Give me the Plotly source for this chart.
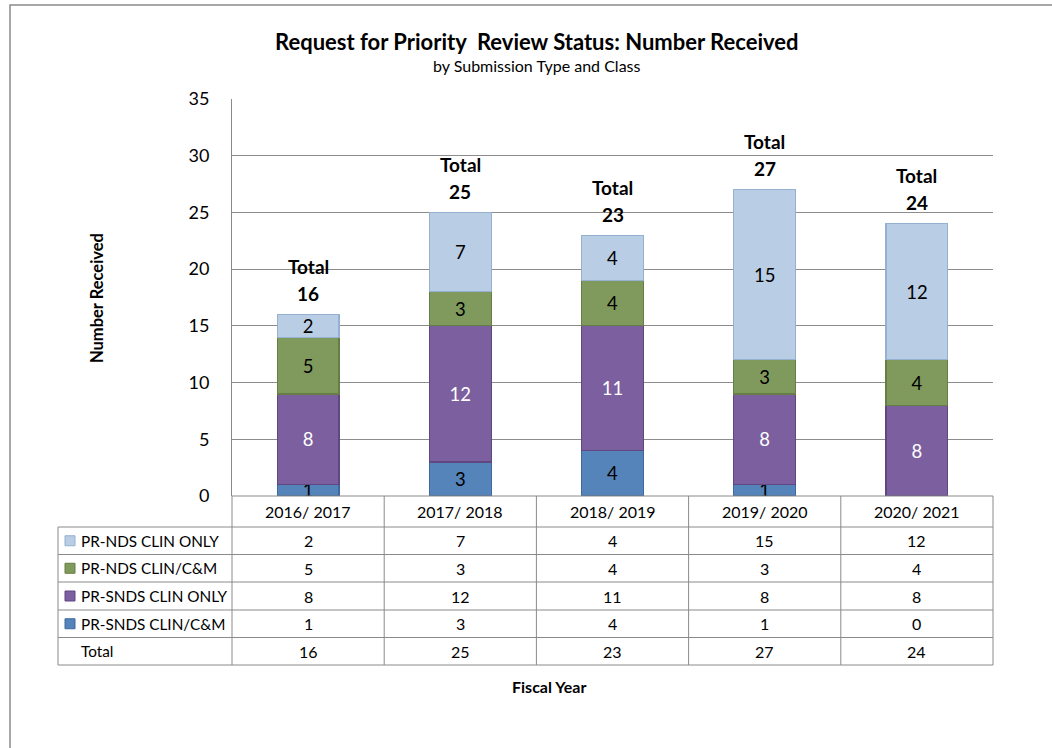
import plotly.graph_objects as go

# ---------------- data ----------------
categories = ["2016/ 2017", "2017/ 2018", "2018/ 2019", "2019/ 2020", "2020/ 2021"]
snds_clin_cm = [1, 3, 4, 1, 0]        # PR-SNDS CLIN/C&M
snds_clin_only = [8, 12, 11, 8, 8]    # PR-SNDS CLIN ONLY
nds_clin_cm = [5, 3, 4, 3, 4]         # PR-NDS CLIN/C&M
nds_clin_only = [2, 7, 4, 15, 12]     # PR-NDS CLIN ONLY
series_names = ["PR-SNDS CLIN/C&M", "PR-SNDS CLIN ONLY", "PR-NDS CLIN/C&M", "PR-NDS CLIN ONLY"]
y_ticks = [0, 5, 10, 15, 20, 25, 30, 35]

title_text = "Request for Priority  Review Status: Number Received"
subtitle_text = "by Submission Type and Class"
y_title = "Number Received"
x_title = "Fiscal Year"

# ---------------- styling ----------------
FONT = "Lato, 'Open Sans', sans-serif"
W, H = 1052, 748
L, R, T, B = 232, 993, 99, 496
GRID = "#8c8c8c"
LINE = "#8a8a8a"
fills = ["#5584bb", "#7c5f9f", "#7f9a5c", "#b9cde4"]
edges = ["#3f6a9e", "#5f4782", "#667e45", "#95b0d0"]
txtcol = ["black", "white", "black", "black"]

series = [snds_clin_cm, snds_clin_only, nds_clin_cm, nds_clin_only]
totals = [sum(v) for v in zip(*series)]


def px(x):
    return (x - L) / (R - L)


def py(y):
    return (B - y) / (B - T)


fig = go.Figure()
for name, vals, fc, ec, tc in zip(series_names, series, fills, edges, txtcol):
    fig.add_trace(go.Bar(
        x=categories, y=vals, name=name,
        marker=dict(color=fc, line=dict(color=ec, width=1.2)),
        text=[str(v) if v else "" for v in vals],
        textposition="inside", insidetextanchor="middle", constraintext="none",
        textangle=0,
        textfont=dict(family=FONT, size=18.5, color=tc),
        hoverinfo="x+y+name",
    ))

annotations = []
shapes = []

# total labels above bars
for c, t in zip(categories, totals):
    annotations.append(dict(x=c, y=t, xref="x", yref="y", text=f"<b>{t}</b>", showarrow=False,
                            yanchor="middle", yshift=21, font=dict(family=FONT, size=19, color="black")))
    annotations.append(dict(x=c, y=t, xref="x", yref="y", text="<b>Total</b>", showarrow=False,
                            yanchor="middle", yshift=48, font=dict(family=FONT, size=19, color="black")))

# title & subtitle
annotations.append(dict(x=px(536), y=py(42), xref="paper", yref="paper", text=f"<b>{title_text}</b>",
                        showarrow=False, xanchor="center", yanchor="middle",
                        font=dict(family=FONT, size=22, color="black")))
annotations.append(dict(x=px(537), y=py(65), xref="paper", yref="paper", text=subtitle_text,
                        showarrow=False, xanchor="center", yanchor="middle",
                        font=dict(family=FONT, size=16, color="black")))
# axis titles
annotations.append(dict(x=px(97), y=py(298), xref="paper", yref="paper", text=f"<b>{y_title}</b>",
                        showarrow=False, textangle=-90, xanchor="center", yanchor="middle",
                        font=dict(family=FONT, size=16.5, color="black")))
annotations.append(dict(x=px(549), y=py(686), xref="paper", yref="paper", text=f"<b>{x_title}</b>",
                        showarrow=False, xanchor="center", yanchor="middle",
                        font=dict(family=FONT, size=16, color="black")))

# ---------------- data table ----------------
row_lines = [527, 554.5, 582, 610, 637.5, 665]
cat_row_center = 511
for c in categories:
    annotations.append(dict(x=c, y=py(cat_row_center), xref="x", yref="paper", text=c, showarrow=False,
                            yanchor="middle", font=dict(family=FONT, size=16, color="black")))

table_rows = [
    (series_names[3], nds_clin_only, fills[3], edges[3]),
    (series_names[2], nds_clin_cm, fills[2], edges[2]),
    (series_names[1], snds_clin_only, fills[1], edges[1]),
    (series_names[0], snds_clin_cm, fills[0], edges[0]),
    ("Total", totals, None, None),
]
for i, (label, vals, fc, ec) in enumerate(table_rows):
    yc = (row_lines[i] + row_lines[i + 1]) / 2
    annotations.append(dict(x=px(79), y=py(yc), xref="paper", yref="paper", text=label, showarrow=False,
                            xanchor="left", yanchor="middle", font=dict(family=FONT, size=15.3, color="black")))
    if fc:
        shapes.append(dict(type="rect", xref="paper", yref="paper", x0=px(65), x1=px(75),
                           y0=py(yc - 5), y1=py(yc + 5), fillcolor=fc, line=dict(color=ec, width=1)))
    for c, v in zip(categories, vals):
        annotations.append(dict(x=c, y=py(yc), xref="x", yref="paper", text=str(v), showarrow=False,
                                yanchor="middle", font=dict(family=FONT, size=16, color="black")))

# table grid lines
for yl in row_lines:
    shapes.append(dict(type="line", xref="paper", yref="paper", x0=px(58), x1=px(R), y0=py(yl), y1=py(yl),
                       line=dict(color=LINE, width=1)))
shapes.append(dict(type="line", xref="paper", yref="paper", x0=px(L), x1=px(R), y0=py(B), y1=py(B),
                   line=dict(color=LINE, width=1)))
shapes.append(dict(type="line", xref="paper", yref="paper", x0=px(58), x1=px(58), y0=py(527), y1=py(665),
                   line=dict(color=LINE, width=1)))
ncat = len(categories)
for k in range(ncat + 1):
    xl = L + (R - L) * k / ncat
    shapes.append(dict(type="line", xref="paper", yref="paper", x0=px(xl), x1=px(xl), y0=py(B), y1=py(665),
                       line=dict(color=LINE, width=1)))

# outer chart border
shapes.append(dict(type="rect", xref="paper", yref="paper", x0=px(10), x1=px(1200), y0=py(5), y1=py(900),
                   line=dict(color="#8a8a8a", width=1.5), fillcolor="rgba(0,0,0,0)"))

fig.update_layout(
    width=W, height=H,
    margin=dict(l=L, r=W - R, t=T, b=H - B, pad=0),
    barmode="stack", bargap=0.593,
    paper_bgcolor="white", plot_bgcolor="white",
    showlegend=False,
    font=dict(family=FONT, color="black"),
    xaxis=dict(type="category", range=[-0.5, 4.5], showticklabels=False, showgrid=False,
               zeroline=False, showline=False, fixedrange=True),
    yaxis=dict(range=[0, 35], tickvals=y_ticks, showgrid=True, gridcolor=GRID, gridwidth=1,
               zeroline=False, showline=True, linecolor=LINE, linewidth=1, ticks="",
               ticklabelstandoff=18, tickfont=dict(family=FONT, size=18, color="black"), fixedrange=True),
    annotations=annotations,
    shapes=shapes,
)

fig.write_html("out.html", config={"displayModeBar": False},
               post_script="document.body.style.margin='0px';")
